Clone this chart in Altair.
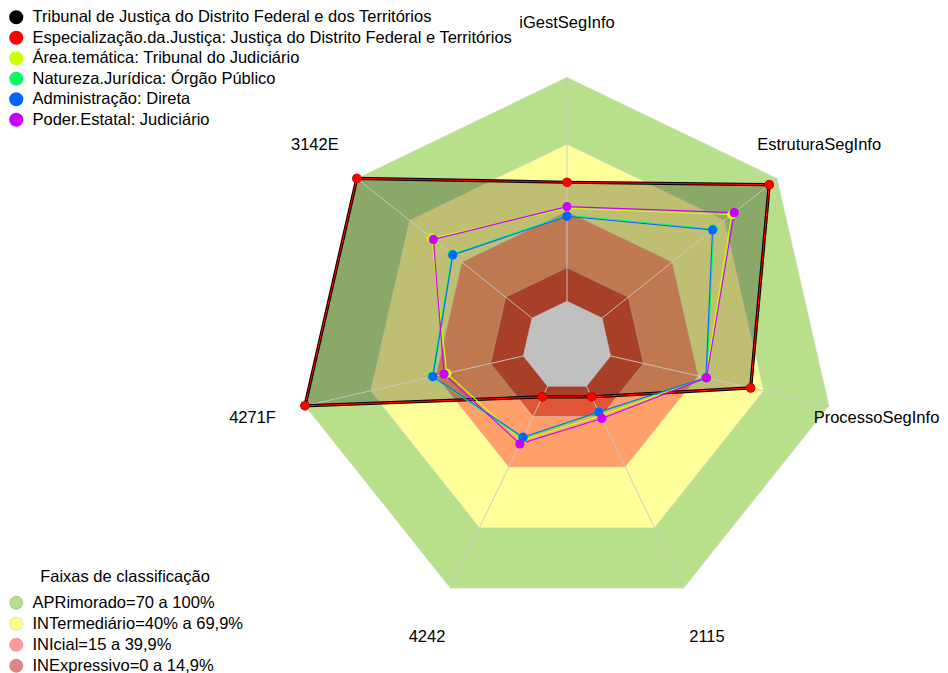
import math
import altair as alt
import pandas as pd

# ---------------- data ----------------
axis_labels = ["iGestSegInfo", "EstruturaSegInfo", "ProcessoSegInfo", "2115", "4242", "4271F", "3142E"]

series_names = [
    "Tribunal de Justiça do Distrito Federal e dos Territórios",
    "Especialização.da.Justiça: Justiça do Distrito Federal e Territórios",
    "Área.temática: Tribunal do Judiciário",
    "Natureza.Jurídica: Órgão Público",
    "Administração: Direta",
    "Poder.Estatal: Judiciário",
]
series_colors = ["#000000", "#ff0000", "#ccff00", "#00ff66", "#0066ff", "#cc00ff"]

v_tribunal = [53.1, 95.5, 64.1, 5.2, 5.2, 100, 100]
v_especializacao = [53.1, 95.5, 64.1, 5.2, 5.2, 100, 100]
v_area = [41.5, 74.0, 43.5, 14.5, 27.0, 35.0, 57.2]
v_natureza = [38.4, 63.8, 44.0, 13.0, 25.6, 41.8, 45.6]
v_administracao = [37.9, 63.1, 43.6, 12.7, 25.2, 41.4, 45.2]
v_poder = [42.2, 75.5, 43.9, 15.9, 28.5, 36.3, 56.3]
series_values = [v_tribunal, v_especializacao, v_area, v_natureza, v_administracao, v_poder]

band_labels = ["APRimorado=70 a 100%", "INTermediário=40% a 69,9%", "INIcial=15 a 39,9%", "INExpressivo=0 a 14,9%"]
band_upper = [100, 70, 40, 15]
band_fill = ["#b8e08a", "#ffff99", "#ffa06a", "#e05535"]
band_legend_colors = ["#b5de8a", "#ffff88", "#ff9a9a", "#de8484"]
center_fill = "#c0c0c0"
legend_title = "Faixas de classificação"

FONT = "Liberation Sans"
FS = 16.5
N = len(axis_labels)

W, H = 932, 665
CX, CY, R = 559.0, 338.0, 268.8


def rad(v):
    # fmsb style: value 0 sits at 1/6 of the radius (5 segments + centre gap)
    return (v / 100.0 * 5 + 1) / 6.0


def ang(k):
    return math.pi / 2 - 2 * math.pi * k / N


def polygon(values, name=""):
    rows = []
    for k, v in enumerate(values):
        r = rad(v)
        rows.append({"x": r * math.cos(ang(k)), "y": r * math.sin(ang(k)), "idx": k, "series": name, "axis": axis_labels[k]})
    return pd.DataFrame(rows)


X = alt.Scale(domain=[-CX / R, (W - CX) / R], nice=False, zero=False)
Y = alt.Scale(domain=[(CY - H) / R, CY / R], nice=False, zero=False)


def xy(df):
    return dict(
        x=alt.X("x:Q", scale=X, axis=None),
        y=alt.Y("y:Q", scale=Y, axis=None),
    )


layers = []

# dummy layer carrying the band legend (hidden under the bands)
dummy = pd.DataFrame({"band": band_labels, "x": [0.0] * 4, "y": [0.0] * 4})
layers.append(
    alt.Chart(dummy).mark_circle(size=4, opacity=1).encode(
        **xy(dummy),
        fill=alt.Fill(
            "band:N",
            scale=alt.Scale(domain=band_labels, range=band_legend_colors),
            legend=alt.Legend(
                title=legend_title, orient="none", legendX=0, legendY=561,
                titleFont=FONT, titleFontSize=FS, titleFontWeight="normal", titleColor="#000000",
                titleAnchor="middle", titlePadding=9, titleLimit=600,
                labelFont=FONT, labelFontSize=FS, labelColor="#000000", labelOffset=8, labelLimit=600,
                symbolType="circle", symbolSize=180, symbolStrokeWidth=0.8, symbolStrokeColor="#00000022",
                rowPadding=3, padding=0,
            ),
        ),
    )
)

# bands (outer to inner)
for lim, col in zip(band_upper, band_fill):
    d = polygon([lim] * N)
    layers.append(
        alt.Chart(d).mark_line(interpolate="linear-closed", fill=col, stroke="#dcdcdc", strokeWidth=0.7, strokeOpacity=0.8).encode(
            **xy(d), order="idx:Q"
        )
    )

# translucent fill of the main series
d_main = polygon(v_tribunal, series_names[0])
layers.append(
    alt.Chart(d_main).mark_line(interpolate="linear-closed", fill="#000000", fillOpacity=0.25, strokeOpacity=0).encode(
        **xy(d_main), order="idx:Q"
    )
)

# grey centre
d_c = polygon([0] * N)
layers.append(
    alt.Chart(d_c).mark_line(interpolate="linear-closed", fill=center_fill, stroke="#c8c8c8", strokeWidth=0.5).encode(
        **xy(d_c), order="idx:Q"
    )
)

# spokes
spokes = pd.DataFrame({
    "x": [rad(0) * math.cos(ang(k)) for k in range(N)],
    "y": [rad(0) * math.sin(ang(k)) for k in range(N)],
    "x2": [math.cos(ang(k)) for k in range(N)],
    "y2": [math.sin(ang(k)) for k in range(N)],
})
layers.append(
    alt.Chart(spokes).mark_rule(color="#c8c8c8", strokeWidth=1, opacity=0.9).encode(
        **xy(spokes), x2="x2:Q", y2="y2:Q"
    )
)

# thick black outline of the main series
layers.append(
    alt.Chart(d_main).mark_line(interpolate="linear-closed", color="#000000", strokeWidth=3.2).encode(
        **xy(d_main), order="idx:Q"
    )
)

# other series lines (own stroke scale, no legend)
d_lines = pd.concat([polygon(v, n) for v, n in zip(series_values[1:], series_names[1:])], ignore_index=True)
layers.append(
    alt.Chart(d_lines).mark_line(interpolate="linear-closed", strokeWidth=1.1).encode(
        **xy(d_lines),
        order="idx:Q",
        detail="series:N",
        stroke=alt.Stroke("series:N", scale=alt.Scale(domain=series_names[1:], range=series_colors[1:]), legend=None),
    )
)

# points (carry the series legend)
d_pts = pd.concat([polygon(v, n) for v, n in zip(series_values, series_names)], ignore_index=True)
layers.append(
    alt.Chart(d_pts).mark_circle(size=85, opacity=1).encode(
        **xy(d_pts),
        color=alt.Color(
            "series:N",
            scale=alt.Scale(domain=series_names, range=series_colors),
            legend=alt.Legend(
                title=None, orient="none", legendX=0, legendY=1,
                labelFont=FONT, labelFontSize=FS, labelColor="#000000", labelOffset=8, labelLimit=700,
                symbolType="circle", symbolSize=200, symbolStrokeWidth=0,
                rowPadding=3.5, padding=0,
            ),
        ),
    )
)

# axis labels
lab = pd.DataFrame({
    "x": [1.2 * math.cos(ang(k)) for k in range(N)],
    "y": [1.2 * math.sin(ang(k)) for k in range(N)],
    "t": axis_labels,
})
lab_main = lab[lab["t"] != "ProcessoSegInfo"]
lab_edge = lab[lab["t"] == "ProcessoSegInfo"]
layers.append(
    alt.Chart(lab_main).mark_text(font=FONT, fontSize=FS, color="#000000", align="center", baseline="middle").encode(
        **xy(lab_main), text="t:N"
    )
)
layers.append(
    alt.Chart(lab_edge).mark_text(font=FONT, fontSize=FS, color="#000000", align="center", baseline="middle", dx=-5).encode(
        **xy(lab_edge), text="t:N"
    )
)

chart = alt.layer(*layers).properties(
    width=W, height=H, autosize=alt.AutoSizeParams(type="none"), padding=0
).configure_view(stroke=None)

chart.save("out.html", embed_options={"renderer": "svg", "actions": False})
